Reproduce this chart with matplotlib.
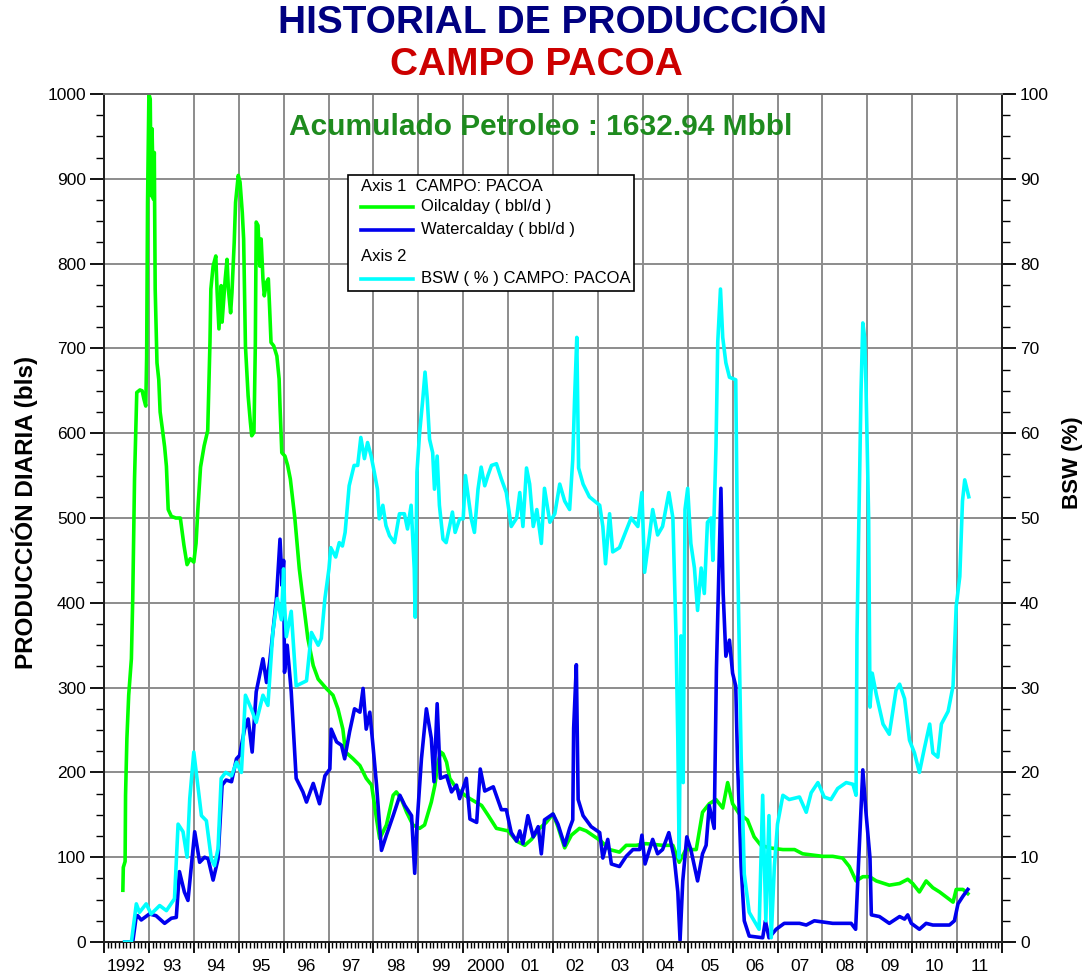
import numpy as np
import matplotlib
matplotlib.use("Agg")
import matplotlib.pyplot as plt
from matplotlib.patches import Rectangle
from matplotlib.lines import Line2D
import matplotlib.transforms as mtransforms

# ---- data (decimal year, value) ----
oil_t = [1992.42, 1992.43, 1992.47, 1992.48, 1992.51, 1992.55, 1992.61, 1992.64, 1992.68, 1992.71,
         1992.73, 1992.80, 1992.85, 1992.89, 1992.93, 1992.95, 1992.97, 1993.00, 1993.03, 1993.05,
         1993.07, 1993.10, 1993.12, 1993.14, 1993.18, 1993.22, 1993.25, 1993.30, 1993.35, 1993.39,
         1993.43, 1993.50, 1993.60, 1993.70, 1993.78, 1993.85, 1993.92, 1994.00, 1994.05, 1994.09,
         1994.15, 1994.23, 1994.31, 1994.36, 1994.38, 1994.43, 1994.49, 1994.52, 1994.56, 1994.61,
         1994.63, 1994.70, 1994.74, 1994.77, 1994.82, 1994.85, 1994.90, 1994.93, 1994.99, 1995.03,
         1995.08, 1995.11, 1995.15, 1995.21, 1995.26, 1995.29, 1995.34, 1995.37, 1995.39, 1995.43,
         1995.47, 1995.50, 1995.54, 1995.57, 1995.62, 1995.66, 1995.69, 1995.72, 1995.78, 1995.85,
         1995.90, 1995.92, 1995.96, 1996.03, 1996.09, 1996.15, 1996.25, 1996.35, 1996.43, 1996.54,
         1996.66, 1996.77, 1996.95, 1997.10, 1997.21, 1997.32, 1997.38, 1997.55, 1997.70, 1997.84,
         1997.96, 1998.07, 1998.14, 1998.29, 1998.44, 1998.51, 1998.62, 1998.74, 1998.88, 1999.03,
         1999.14, 1999.29, 1999.37, 1999.44, 1999.50, 1999.55, 1999.63, 1999.70, 1999.85, 2000.04,
         2000.15, 2000.41, 2000.56, 2000.74, 2001.00, 2001.19, 2001.37, 2001.52, 2001.70, 2001.85,
         2002.00, 2002.11, 2002.26, 2002.41, 2002.59, 2002.74, 2002.93, 2003.07, 2003.26, 2003.48,
         2003.63, 2003.85, 2004.07, 2004.44, 2004.67, 2004.81, 2004.96, 2005.19, 2005.33, 2005.48,
         2005.63, 2005.78, 2005.89, 2006.00, 2006.15, 2006.33, 2006.48, 2006.63, 2006.82, 2007.12,
         2007.38, 2007.56, 2008.01, 2008.23, 2008.45, 2008.60, 2008.75, 2008.90, 2009.05, 2009.20,
         2009.49, 2009.72, 2009.90, 2010.01, 2010.16, 2010.31, 2010.46, 2010.61, 2010.91, 2010.98,
         2011.13, 2011.24]
oil_v = [61, 88, 95, 173, 240, 291, 334, 405, 546, 605,
         648, 651, 650, 640, 632, 690, 872, 1000, 994, 880,
         959, 876, 931, 770, 683, 663, 625, 605, 584, 561,
         510, 502, 500, 500, 468, 445, 452, 448, 470, 510,
         560, 585, 603, 707, 770, 797, 809, 766, 723, 774,
         731, 782, 805, 770, 742, 766, 825, 872, 904, 896,
         860, 829, 703, 644, 613, 597, 601, 703, 849, 845,
         797, 829, 782, 762, 778, 782, 746, 707, 703, 691,
         664, 632, 577, 573, 562, 546, 500, 440, 405, 358,
         326, 310, 299, 291, 275, 251, 224, 216, 208, 193,
         185, 145, 122, 138, 173, 177, 169, 153, 138, 134,
         138, 165, 185, 212, 224, 222, 212, 193, 181, 173,
         169, 161, 149, 134, 131, 119, 114, 121, 134, 141,
         151, 136, 111, 126, 134, 131, 124, 119, 109, 106,
         114, 114, 116, 114, 114, 94, 109, 109, 153, 163,
         168, 158, 188, 163, 151, 144, 124, 114, 111, 109,
         109, 104, 101, 101, 99, 89, 72, 77, 77, 72,
         67, 69, 74, 69, 59, 72, 64, 59, 47, 62,
         62, 57]

water_t = [1992.46, 1992.64, 1992.72, 1992.75, 1992.83, 1993.01, 1993.16, 1993.35, 1993.50, 1993.61,
           1993.68, 1993.79, 1993.87, 1994.02, 1994.13, 1994.24, 1994.32, 1994.43, 1994.54, 1994.63,
           1994.72, 1994.84, 1994.95, 1995.02, 1995.13, 1995.21, 1995.30, 1995.39, 1995.54, 1995.62,
           1995.69, 1995.76, 1995.84, 1995.92, 1995.97, 1996.00, 1996.02, 1996.08, 1996.17, 1996.28,
           1996.43, 1996.51, 1996.66, 1996.80, 1996.92, 1997.03, 1997.06, 1997.18, 1997.29, 1997.36,
           1997.47, 1997.58, 1997.70, 1997.77, 1997.84, 1997.92, 1997.99, 1998.07, 1998.18, 1998.29,
           1998.44, 1998.59, 1998.70, 1998.85, 1998.92, 1998.97, 1999.07, 1999.18, 1999.29, 1999.35,
           1999.42, 1999.49, 1999.63, 1999.74, 1999.85, 1999.92, 2000.07, 2000.15, 2000.30, 2000.38,
           2000.48, 2000.67, 2000.85, 2000.96, 2001.07, 2001.19, 2001.26, 2001.33, 2001.44, 2001.56,
           2001.67, 2001.74, 2001.81, 2002.00, 2002.11, 2002.26, 2002.37, 2002.44, 2002.46, 2002.52,
           2002.56, 2002.67, 2002.85, 2003.04, 2003.11, 2003.22, 2003.30, 2003.48, 2003.63, 2003.78,
           2003.93, 2003.98, 2004.05, 2004.22, 2004.33, 2004.44, 2004.58, 2004.70, 2004.78, 2004.83,
           2004.89, 2004.98, 2005.07, 2005.22, 2005.33, 2005.41, 2005.48, 2005.59, 2005.64, 2005.69,
           2005.74, 2005.79, 2005.85, 2005.93, 2006.00, 2006.07, 2006.11, 2006.19, 2006.26, 2006.37,
           2006.67, 2006.73, 2006.81, 2006.97, 2007.15, 2007.49, 2007.64, 2007.82, 2008.23, 2008.64,
           2008.74, 2008.81, 2008.90, 2008.97, 2009.06, 2009.09, 2009.27, 2009.49, 2009.72, 2009.83,
           2009.90, 2009.98, 2010.16, 2010.31, 2010.46, 2010.83, 2010.94, 2011.02, 2011.13, 2011.24]
water_v = [0, 0, 31, 31, 26, 33, 31, 22, 28, 29,
           83, 59, 49, 130, 94, 100, 98, 73, 98, 185,
           191, 189, 216, 220, 251, 263, 224, 295, 334, 306,
           330, 365, 405, 475, 420, 450, 318, 350, 295, 193,
           177, 165, 187, 163, 196, 204, 251, 236, 232, 216,
           248, 275, 271, 299, 251, 271, 232, 185, 108, 126,
           149, 173, 161, 149, 81, 138, 216, 275, 240, 189,
           281, 193, 196, 177, 185, 169, 193, 145, 141, 204,
           178, 183, 156, 156, 129, 119, 131, 116, 149, 124,
           136, 104, 144, 151, 139, 114, 134, 144, 252, 327,
           168, 149, 136, 129, 99, 121, 92, 89, 101, 109,
           109, 126, 92, 121, 104, 109, 129, 99, 59, 2,
           72, 124, 109, 72, 104, 114, 161, 134, 322, 426,
           535, 411, 337, 356, 317, 302, 213, 89, 25, 7,
           5, 25, 5, 15, 22, 22, 20, 25, 22, 22,
           15, 99, 203, 153, 99, 32, 30, 22, 30, 27,
           32, 22, 15, 22, 20, 20, 25, 45, 54, 62]

bsw_t = [1992.46, 1992.61, 1992.72, 1992.79, 1992.94, 1993.05, 1993.24, 1993.39, 1993.57, 1993.65,
         1993.76, 1993.85, 1993.91, 1994.00, 1994.07, 1994.17, 1994.28, 1994.39, 1994.46, 1994.54,
         1994.61, 1994.71, 1994.84, 1994.95, 1995.06, 1995.15, 1995.28, 1995.39, 1995.54, 1995.65,
         1995.76, 1995.86, 1995.95, 1996.00, 1996.02, 1996.06, 1996.17, 1996.28, 1996.51, 1996.62,
         1996.77, 1996.84, 1996.92, 1997.01, 1997.05, 1997.16, 1997.24, 1997.31, 1997.37, 1997.46,
         1997.57, 1997.65, 1997.72, 1997.80, 1997.87, 1997.95, 1998.02, 1998.09, 1998.13, 1998.21,
         1998.28, 1998.36, 1998.47, 1998.58, 1998.69, 1998.76, 1998.84, 1998.91, 1998.93, 1998.97,
         1999.03, 1999.10, 1999.15, 1999.20, 1999.25, 1999.32, 1999.36, 1999.42, 1999.47, 1999.55,
         1999.62, 1999.70, 1999.76, 1999.82, 1999.92, 2000.00, 2000.05, 2000.12, 2000.18, 2000.25,
         2000.33, 2000.40, 2000.48, 2000.55, 2000.63, 2000.74, 2000.85, 2000.96, 2001.07, 2001.19,
         2001.26, 2001.33, 2001.41, 2001.48, 2001.56, 2001.64, 2001.74, 2001.81, 2001.93, 2002.04,
         2002.15, 2002.26, 2002.37, 2002.44, 2002.48, 2002.53, 2002.57, 2002.67, 2002.81, 2003.04,
         2003.11, 2003.17, 2003.26, 2003.33, 2003.48, 2003.63, 2003.74, 2003.89, 2003.98, 2004.04,
         2004.15, 2004.22, 2004.33, 2004.44, 2004.58, 2004.67, 2004.74, 2004.78, 2004.81, 2004.85,
         2004.90, 2004.94, 2005.00, 2005.07, 2005.15, 2005.22, 2005.30, 2005.37, 2005.44, 2005.52,
         2005.56, 2005.63, 2005.67, 2005.73, 2005.78, 2005.85, 2005.93, 2006.07, 2006.11, 2006.19,
         2006.26, 2006.37, 2006.59, 2006.67, 2006.74, 2006.81, 2006.86, 2006.93, 2007.00, 2007.12,
         2007.26, 2007.49, 2007.64, 2007.75, 2007.90, 2008.04, 2008.19, 2008.34, 2008.53, 2008.68,
         2008.75, 2008.77, 2008.83, 2008.86, 2008.90, 2008.94, 2008.97, 2009.03, 2009.06, 2009.11,
         2009.20, 2009.35, 2009.49, 2009.64, 2009.72, 2009.83, 2009.94, 2010.05, 2010.16, 2010.27,
         2010.39, 2010.46, 2010.57, 2010.65, 2010.80, 2010.91, 2010.98, 2011.06, 2011.12, 2011.17,
         2011.26]
bsw_v = [0, 0, 4.5, 3.5, 4.5, 3.3, 4.3, 3.7, 5.1, 13.9,
         13.0, 10.0, 16.9, 22.4, 19.3, 14.9, 14.3, 9.8, 9.0, 11.0,
         19.3, 20.0, 19.6, 21.2, 20.0, 29.1, 27.5, 25.9, 29.1, 27.9,
         36.5, 40.5, 38.0, 44.0, 40.0, 36.0, 39.0, 30.2, 30.8, 36.5,
         35.0, 35.8, 40.5, 44.0, 46.5, 45.4, 47.1, 46.7, 48.3, 53.8,
         56.2, 56.2, 59.5, 57.0, 58.9, 57.3, 55.4, 53.4, 49.9, 51.5,
         49.1, 47.9, 47.1, 50.5, 50.5, 48.7, 51.5, 44.0, 38.3, 55.4,
         60.1, 64.0, 67.2, 64.0, 59.3, 57.7, 53.4, 57.3, 51.5, 47.5,
         47.1, 49.1, 50.7, 48.3, 49.9, 49.9, 55.0, 52.2, 49.9, 48.3,
         53.4, 56.0, 53.8, 55.0, 56.2, 56.4, 54.6, 53.0, 49.0, 50.0,
         53.0, 49.0, 55.9, 54.0, 49.0, 51.0, 47.0, 53.5, 49.5, 50.5,
         54.0, 52.0, 51.0, 56.9, 63.9, 71.3, 55.9, 54.0, 52.5, 51.5,
         49.0, 44.6, 50.5, 46.0, 46.5, 48.5, 50.0, 49.0, 53.0, 43.6,
         48.0, 51.0, 48.0, 49.0, 53.0, 50.0, 36.1, 23.8, 9.9, 36.1,
         18.8, 51.0, 53.5, 47.0, 44.1, 39.1, 44.1, 41.1, 49.5, 50.0,
         45.0, 58.4, 70.8, 77.0, 71.3, 68.3, 66.6, 66.3, 46.0, 22.0,
         8.0, 3.5, 1.5, 17.3, 2.5, 14.9, 0.5, 8.9, 13.9, 17.3,
         16.8, 17.1, 15.3, 17.6, 18.8, 17.1, 16.8, 18.1, 18.8, 18.6,
         17.3, 36.1, 55.0, 64.9, 73.0, 71.3, 65.8, 50.0, 27.7, 31.7,
         29.2, 25.7, 24.5, 29.7, 30.4, 28.7, 23.8, 22.3, 20.0, 22.8,
         25.7, 22.3, 21.8, 25.7, 27.2, 30.2, 39.6, 43.1, 52.0, 54.5,
         52.5]

years = list(range(1992, 2012))
year_labels = ["1992", "93", "94", "95", "96", "97", "98", "99", "2000", "01",
               "02", "03", "04", "05", "06", "07", "08", "09", "10", "11"]

# ---- figure ----
plt.rcParams["font.family"] = "Liberation Sans"

fig = plt.figure(figsize=(10.91, 9.74), dpi=100)
ax = fig.add_axes([104 / 1091, 1 - 942 / 974, 898 / 1091, 848 / 974])
ax2 = ax.twinx()

ax.plot(oil_t, oil_v, color="#00ff00", lw=2.6, zorder=3)
ax.plot(water_t, water_v, color="#0000ee", lw=2.6, zorder=4)
ax2.plot(bsw_t, bsw_v, color="#00ffff", lw=2.6, zorder=3)

ax.set_xlim(1992, 2012)
ax.set_ylim(0, 1000)
ax2.set_ylim(0, 100)

# x ticks: year boundaries (major) + months (minor), labels at mid-year
ax.set_xticks(years + [2012])
ax.set_xticks(np.arange(1992, 2012, 1 / 12), minor=True)
ax.set_xticklabels([])
ax.tick_params(axis="x", which="major", length=8, width=1.3, direction="out", color="k")
ax.tick_params(axis="x", which="minor", length=4, width=1, direction="out", color="k")
trans = mtransforms.blended_transform_factory(ax.transData, ax.transAxes)
for yr, lab in zip(years, year_labels):
    ax.text(yr + 0.5, -0.029, lab, transform=trans, ha="center", va="center", fontsize=12.5)

# y ticks
ax.set_yticks(np.arange(0, 1001, 100))
ax.set_yticks(np.arange(0, 1001, 25), minor=True)
ax.tick_params(axis="y", which="major", length=10, width=1.3, labelsize=12.5, pad=3)
ax.tick_params(axis="y", which="minor", length=6, width=1)
ax2.set_yticks(np.arange(0, 101, 10))
ax2.set_yticks(np.arange(0, 101, 2.5), minor=True)
ax2.tick_params(axis="y", which="major", length=10, width=1.3, labelsize=12.5, pad=3)
ax2.tick_params(axis="y", which="minor", length=6, width=1)

ax.grid(which="major", color="#8c8c8c", lw=1.4, zorder=0)
ax.set_axisbelow(True)

for a in (ax, ax2):
    a.spines["top"].set_color("#6e6e6e")
    a.spines["top"].set_linewidth(1.4)
    for s in ("left", "right", "bottom"):
        a.spines[s].set_linewidth(1.4)
        a.spines[s].set_color("#222222")

ax.set_ylabel("PRODUCCIÓN DIARIA (bls)", fontsize=17.5, fontweight="bold")
ax.yaxis.set_label_coords(-0.0735, 0.507)
ax2.set_ylabel("BSW (%)", fontsize=16, fontweight="bold")
ax2.yaxis.set_label_coords(1.0668, 0.565)

# titles
fig.text(553 / 1091, 1 - 23 / 974, "HISTORIAL DE PRODUCCIÓN", ha="center", va="center",
         fontsize=28, fontweight="bold", color="#000080")
fig.text(536 / 1091, 1 - 65 / 974, "CAMPO PACOA", ha="center", va="center",
         fontsize=28, fontweight="bold", color="#cc0000")

ax.text(0.4866, 0.961, "Acumulado Petroleo : 1632.94 Mbbl", transform=ax.transAxes,
        ha="center", va="center", fontsize=21.5, fontweight="bold", color="#1e8b1e", zorder=6)

# legend box drawn by hand to mimic the original layout
lx0, lx1 = (348 - 104) / 898, (634 - 104) / 898
ly0, ly1 = (942 - 291) / 848, (942 - 175) / 848
ax2.add_patch(Rectangle((lx0, ly0), lx1 - lx0, ly1 - ly0, transform=ax2.transAxes,
                        facecolor="white", edgecolor="black", lw=1.2, zorder=10))
hx0, hx1, tx = (361 - 104) / 898, (413 - 104) / 898, (421 - 104) / 898
rows = [("Axis 1  CAMPO: PACOA", None, 187), ("Oilcalday ( bbl/d )", "#00ff00", 207),
        ("Watercalday ( bbl/d )", "#0000ee", 230), ("Axis 2", None, 257),
        ("BSW ( % ) CAMPO: PACOA", "#00ffff", 279)]
for label, col, py in rows:
    yy = (942 - py) / 848
    if col is None:
        ax2.text(hx0, yy, label, transform=ax2.transAxes, ha="left", va="center",
                 fontsize=12, zorder=11)
    else:
        ax2.add_line(Line2D([hx0, hx1], [yy, yy], transform=ax2.transAxes, color=col,
                            lw=2.6, zorder=11))
        ax2.text(tx, yy, label, transform=ax2.transAxes, ha="left", va="center",
                 fontsize=12, zorder=11)

fig.savefig("out.png", dpi=100, facecolor="white")
